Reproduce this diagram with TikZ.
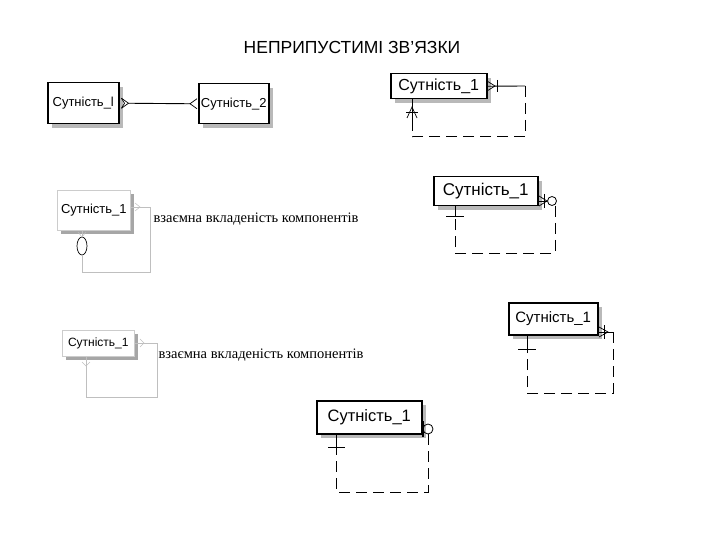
\documentclass[tikz,border=0pt]{standalone}
\usepackage{fontspec}
\setmainfont{Liberation Sans}
\newfontfamily\capfont{Liberation Serif}
\usetikzlibrary{shadows,calc,shapes.geometric}
\tikzset{
  % black entity box with hatched shadow
  ent/.style={rectangle,draw=black,line width=1.5pt,fill=white,
    inner sep=0pt,anchor=north west,font=\fontsize{14}{16}\selectfont,
    drop shadow={shadow xshift=4pt,shadow yshift=-4pt,fill=gray!55,opacity=1}},
  % pale entity box
  pent/.style={rectangle,draw=gray!40,line width=0.6pt,fill=white,
    inner sep=0pt,anchor=north west,font=\fontsize{13}{15}\selectfont,
    drop shadow={shadow xshift=4pt,shadow yshift=-4pt,fill=gray!70,opacity=1}},
  % relationship lines
  rel/.style={line width=0.9pt},
  reld/.style={line width=1pt,dash pattern=on 11pt off 6pt},
  prel/.style={draw=gray!50,line width=0.8pt},
  captext/.style={font=\capfont\fontsize{14.5}{16}\selectfont,anchor=west},
}
\begin{document}
\begin{tikzpicture}[x=1pt,y=-1pt]
  \useasboundingbox (0,0) rectangle (720,540);
  \node[font=\fontsize{17.5}{19}\selectfont] (title) at (352,47) {НЕПРИПУСТИМІ ЗВ’ЯЗКИ};

  % two entities, many to many
  \node[ent,minimum width=71pt,minimum height=41pt,font=\fontsize{13}{15}\selectfont] (e1) at (47,82) {Сутність\_l};
  \node[ent,minimum width=70pt,minimum height=40pt,font=\fontsize{13}{15}\selectfont] (e2) at (198,83) {Сутність\_2};
  \coordinate (m1) at ($(e1.east)+(9,0)$);
  \coordinate (m2) at ($(e2.west)+(-8,0)$);
  \draw[rel] (m1) -- (m2);
  \draw[line width=0.7pt] ($(e1.east)+(2,-5)$) -- (m1) -- ($(e1.east)+(2,5)$);
  \draw[line width=0.7pt] ($(e1.east)+(2,-5)$) -- ($(e1.east)+(5,0)$) -- ($(e1.east)+(2,5)$);
  \draw[line width=0.7pt] ($(e2.west)+(-1,-5)$) -- (m2) -- ($(e2.west)+(-1,5)$);

  % top right: recursive, dashed
  \node[ent,minimum width=96pt,minimum height=25pt,font=\fontsize{16}{18}\selectfont] (e4) at (390,73) {Сутність\_1};
  \coordinate (a1) at (525,86);
  \coordinate (a2) at (525,137);
  \coordinate (a3) at (412,137);
  \coordinate (a4) at (412,120);
  \draw[rel] (e4.east) -- (a1);
  \draw[rel] (497,80) -- (497,92);
  \draw[line width=0.7pt] (487,81) -- (495,86) -- (487,91);
  \draw[reld] (a1) -- (a2) -- (a3) -- (a4);
  \draw[rel] (a4) -- (e4.south west -| a4);
  \draw[line width=0.7pt] (406,112) -- (418,112);
  \draw[line width=0.7pt] (407,118) -- (412,107) -- (417,118);

  % middle left: pale, with caption
  \node[pent,minimum width=73pt,minimum height=40pt] (e3) at (57,190) {Сутність\_1};
  \coordinate (b1) at (150,207);
  \coordinate (b2) at (150,272);
  \coordinate (b3) at (82,272);
  \node[draw=black,ellipse,inner sep=0pt,minimum width=10pt,minimum height=18pt,line width=0.7pt] (o3) at (82,246) {};
  \draw[prel] (e3.east |- b1) -- (b1) -- (b2) -- (b3) -- (o3.south);
  \draw[prel] (o3.north) -- (e3.south west -| o3);
  \draw[prel,line width=0.5pt] (135,203) -- (140,207) -- (135,211);
  \draw[prel,line width=0.5pt] (78,232) -- (82,237) -- (86,232);
  \node[captext] (c3) at (150,219) {взаємна вкладеність компонентів};

  % middle right: dashed with circle
  \node[ent,minimum width=104pt,minimum height=29pt,font=\fontsize{17}{19}\selectfont] (e5) at (433,176) {Сутність\_1};
  \node[draw=black,circle,inner sep=0pt,minimum size=9pt,line width=0.8pt] (o5) at (552,201) {};
  \coordinate (d1) at (555,253);
  \coordinate (d2) at (455,253);
  \coordinate (d3) at (455,216);
  \draw[rel] (e5.east |- o5) -- (o5.west);
  \draw[line width=0.7pt] (539,196) -- (547,201) -- (539,206);
  \draw[rel] (544,194) -- (544,208);
  \draw[reld] (o5.south -| d1) -- (d1) -- (d2) -- (d3);
  \draw[rel] (d3) -- (e5.south west -| d3);
  \draw[rel] (446,216) -- (464,216);

  % lower left: pale, with caption
  \node[pent,minimum width=72pt,minimum height=26pt,font=\fontsize{12}{14}\selectfont] (e6) at (62,330) {Сутність\_1};
  \coordinate (f1) at (157,343);
  \coordinate (f2) at (157,397);
  \coordinate (f3) at (86,397);
  \draw[prel] (e6.east |- f1) -- (f1) -- (f2) -- (f3) -- (e6.south west -| f3);
  \draw[prel,line width=0.5pt] (140,339) -- (144,343) -- (140,347);
  \draw[prel,line width=0.5pt] (82,362) -- (86,366) -- (90,362);
  \node[captext] (c6) at (155,355) {взаємна вкладеність компонентів};

  % lower right: dashed
  \node[ent,minimum width=89pt,minimum height=32pt,font=\fontsize{15}{17}\selectfont] (e7) at (508,302) {Сутність\_1};
  \coordinate (g1) at (613,332);
  \coordinate (g2) at (613,393);
  \coordinate (g3) at (527,393);
  \coordinate (g4) at (527,350);
  \draw[rel] (e7.east |- g1) -- (g1);
  \draw[line width=0.7pt] (599,327) -- (608,332) -- (599,337);
  \draw[rel] (604,325) -- (604,339);
  \draw[reld] (g1) -- (g2) -- (g3) -- (g4);
  \draw[rel] (g4) -- (e7.south west -| g4);
  \draw[rel] (518,349) -- (536,349);

  % bottom: dashed with circle
  \node[ent,minimum width=105pt,minimum height=33pt,font=\fontsize{16.5}{18}\selectfont] (e8) at (316,400) {Сутність\_1};
  \node[draw=black,circle,inner sep=0pt,minimum size=10pt,line width=0.8pt] (o8) at (428,429) {};
  \coordinate (h1) at (428,492);
  \coordinate (h2) at (336,492);
  \coordinate (h3) at (336,447);
  \draw[rel] (e8.east |- o8) -- (o8.west);
  \draw[line width=1.4pt] (423,421) -- (423,437);
  \draw[reld] (o8.south) -- (h1) -- (h2) -- (h3);
  \draw[rel] (h3) -- (e8.south west -| h3);
  \draw[rel] (328,447) -- (345,447);
\end{tikzpicture}
\end{document}
